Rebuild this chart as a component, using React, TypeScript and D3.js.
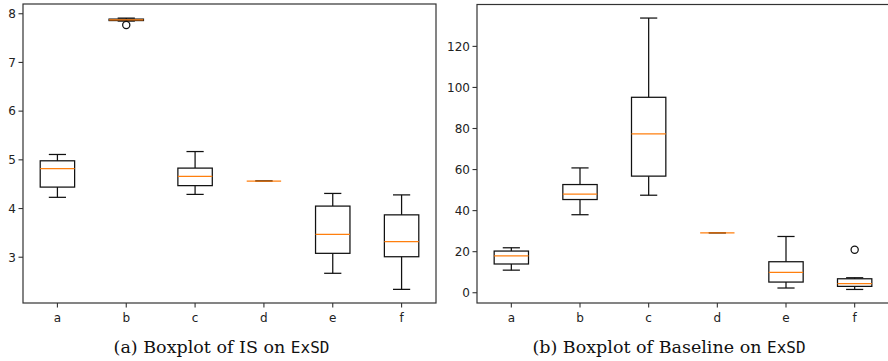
import React, { useEffect, useRef } from 'react';
import * as d3 from 'd3';

const categories = ['a', 'b', 'c', 'd', 'e', 'f'];

// (a) IS on ExSD
const isLow = [4.23, 7.85, 4.29, 4.565, 2.67, 2.34];
const isQ1 = [4.44, 7.86, 4.47, 4.565, 3.08, 3.01];
const isMed = [4.82, 7.875, 4.66, 4.565, 3.47, 3.32];
const isQ3 = [4.98, 7.89, 4.83, 4.565, 4.05, 3.87];
const isHigh = [5.11, 7.91, 5.17, 4.565, 4.31, 4.28];
const isOutliers = [[], [7.77], [], [], [], []];
const isTicks = [3, 4, 5, 6, 7, 8];

// (b) Baseline on ExSD
const baseLow = [11.0, 38.0, 47.5, 29.2, 2.3, 1.6];
const baseQ1 = [14.0, 45.4, 56.8, 29.2, 5.2, 3.1];
const baseMed = [18.0, 48.0, 77.4, 29.2, 9.9, 4.4];
const baseQ3 = [20.3, 52.7, 95.2, 29.2, 15.1, 6.8];
const baseHigh = [21.9, 60.8, 133.8, 29.2, 27.4, 7.3];
const baseOutliers = [[], [], [], [], [], [20.9]];
const baseTicks = [0, 20, 40, 60, 80, 100, 120];

const App = () => {
  const svgRef = useRef(null);

  useEffect(() => {
    const svg = d3.select(svgRef.current);
    svg.selectAll('*').remove();

    const drawPanel = (opts) => {
      const { x0, x1, y0, y1, domain, low, q1, med, q3, high, outliers, ticks } = opts;
      const g = svg.append('g');

      const x = d3.scaleLinear().domain([0.5, 6.5]).range([x0, x1]);
      const y = d3.scaleLinear().domain(domain).range([y1, y0]);
      const sw = 1.25;

      categories.forEach((c, i) => {
        const cx = x(i + 1);
        const bw = x(0.75) - x(0.5);
        const cw = x(0.625) - x(0.5);
        // whiskers
        g.append('line').attr('x1', cx).attr('x2', cx).attr('y1', y(low[i])).attr('y2', y(q1[i]))
          .attr('stroke', '#111').attr('stroke-width', sw);
        g.append('line').attr('x1', cx).attr('x2', cx).attr('y1', y(q3[i])).attr('y2', y(high[i]))
          .attr('stroke', '#111').attr('stroke-width', sw);
        // caps
        [low[i], high[i]].forEach(v => {
          g.append('line').attr('x1', cx - cw).attr('x2', cx + cw).attr('y1', y(v)).attr('y2', y(v))
            .attr('stroke', '#111').attr('stroke-width', sw);
        });
        // box
        g.append('rect')
          .attr('x', cx - bw).attr('width', 2 * bw)
          .attr('y', y(q3[i])).attr('height', Math.max(0, y(q1[i]) - y(q3[i])))
          .attr('fill', 'none').attr('stroke', '#111').attr('stroke-width', sw);
        // median
        g.append('line').attr('x1', cx - bw).attr('x2', cx + bw).attr('y1', y(med[i])).attr('y2', y(med[i]))
          .attr('stroke', '#ff7f0e').attr('stroke-width', sw);
        // fliers
        outliers[i].forEach(v => {
          g.append('circle').attr('cx', cx).attr('cy', y(v)).attr('r', 3.6)
            .attr('fill', 'none').attr('stroke', '#111').attr('stroke-width', sw);
        });
      });

      // frame
      g.append('rect')
        .attr('x', x0).attr('y', y0).attr('width', x1 - x0).attr('height', y1 - y0)
        .attr('fill', 'none').attr('stroke', '#333').attr('stroke-width', 1.2);

      // y ticks
      ticks.forEach(t => {
        g.append('line').attr('x1', x0 - 4.5).attr('x2', x0).attr('y1', y(t)).attr('y2', y(t))
          .attr('stroke', '#333').attr('stroke-width', 1.1);
        g.append('text').attr('x', x0 - 7).attr('y', y(t)).attr('dy', '0.36em')
          .attr('text-anchor', 'end').attr('font-family', 'DejaVu Sans').attr('font-size', 12)
          .attr('fill', '#222').text(t);
      });

      // x ticks
      categories.forEach((c, i) => {
        const cx = x(i + 1);
        g.append('line').attr('x1', cx).attr('x2', cx).attr('y1', y1).attr('y2', y1 + 4.5)
          .attr('stroke', '#333').attr('stroke-width', 1.1);
        g.append('text').attr('x', cx).attr('y', y1 + 19)
          .attr('text-anchor', 'middle').attr('font-family', 'DejaVu Sans').attr('font-size', 12)
          .attr('fill', '#222').text(c);
      });
    };

    drawPanel({
      x0: 23, x1: 436, y0: 4, y1: 303, domain: [2.06, 8.2],
      low: isLow, q1: isQ1, med: isMed, q3: isQ3, high: isHigh, outliers: isOutliers, ticks: isTicks
    });
    drawPanel({
      x0: 477, x1: 889, y0: 4.5, y1: 303, domain: [-5.0, 140.4],
      low: baseLow, q1: baseQ1, med: baseMed, q3: baseQ3, high: baseHigh, outliers: baseOutliers, ticks: baseTicks
    });

    // captions
    const caption = (cx, label) => {
      const t = svg.append('text').attr('x', cx).attr('y', 353).attr('text-anchor', 'middle')
        .attr('font-family', 'DejaVu Serif').attr('font-size', 17.5).attr('fill', '#111');
      t.append('tspan').text(label + ' on ');
      t.append('tspan').attr('font-family', 'DejaVu Sans Mono').attr('font-size', 16).text('ExSD');
    };
    caption(221.5, '(a) Boxplot of IS');
    caption(669, '(b) Boxplot of Baseline');
  }, []);

  return (
    <svg ref={svgRef} width={888} height={361}
      style={{ position: 'absolute', left: 0, top: 0, background: '#fff' }} />
  );
};

export default App;
